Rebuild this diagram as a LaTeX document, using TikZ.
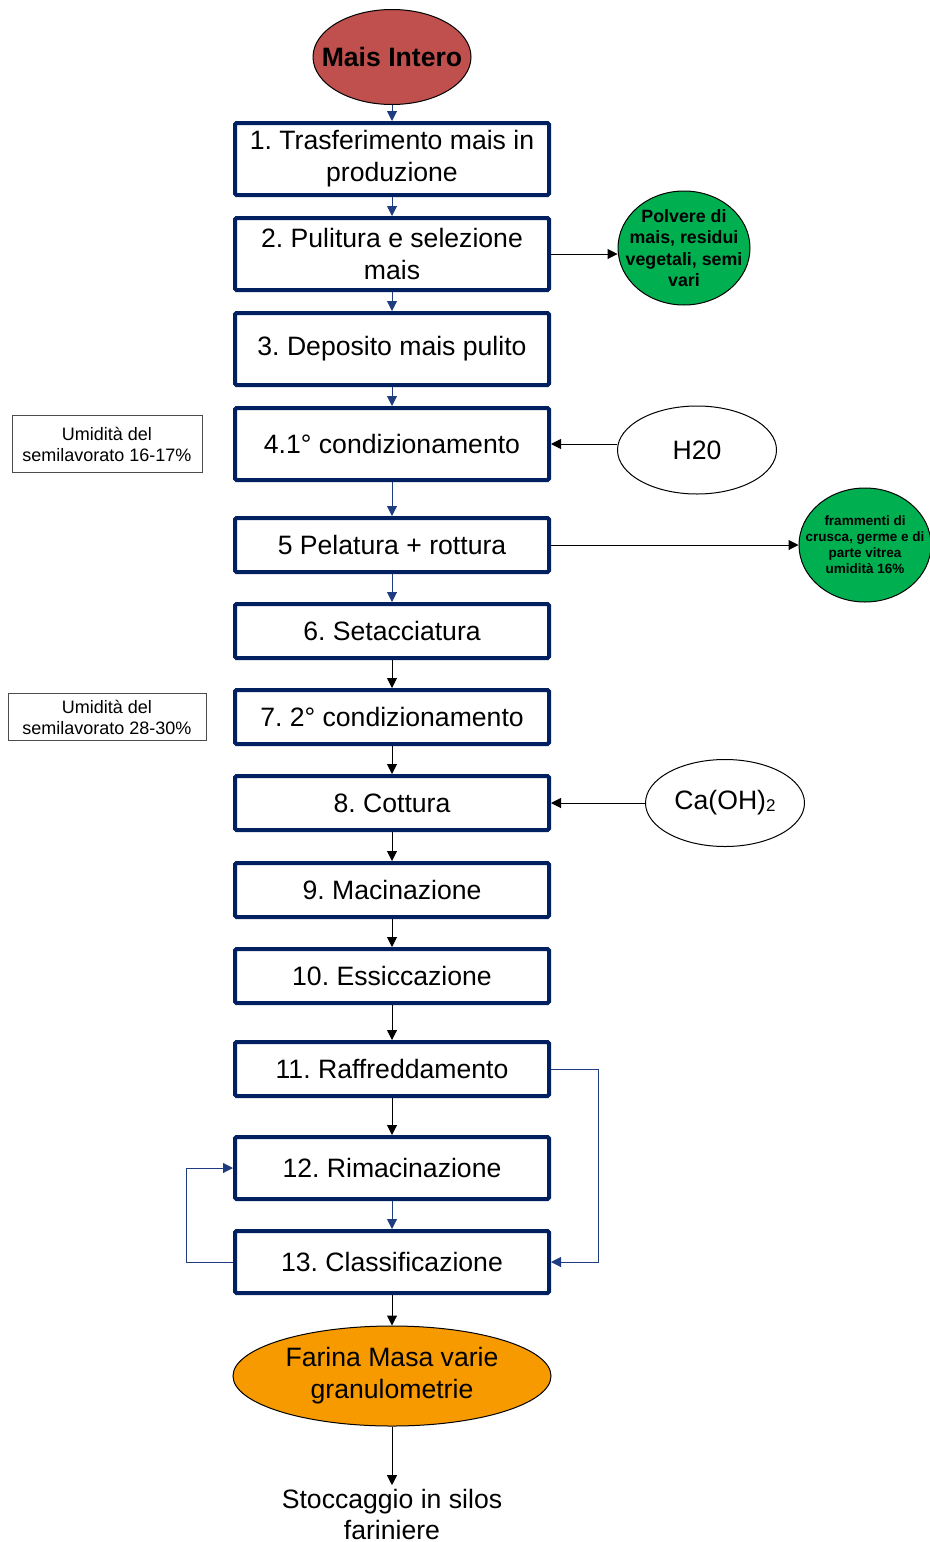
\documentclass[tikz,border=0pt]{standalone}
\usepackage{fontspec}
\setmainfont{Liberation Sans}
\usepackage{xcolor}
\usetikzlibrary{arrows.meta}
\usetikzlibrary{shapes.geometric}

\definecolor{navy}{HTML}{002060}
\definecolor{flowblue}{HTML}{1F3C80}
\definecolor{maisred}{HTML}{C0504D}
\definecolor{wastegreen}{HTML}{00B050}
\definecolor{flourorange}{HTML}{F79A00}

\frenchspacing
\begin{document}
\begin{tikzpicture}[x=1pt,y=-1pt,
  stepbox/.style={draw=navy, line width=4pt, rounded corners=1.5pt, fill=white,
    minimum width=314pt, align=center, font=\fontsize{26.6}{32}\selectfont},
  oval/.style={ellipse, draw, line width=1pt, inner sep=0pt},
  waste/.style={oval, fill=wastegreen, minimum width=132pt, minimum height=114pt},
  note/.style={draw=black!70, line width=0.8pt, align=center, inner sep=2pt,
    font=\fontsize{18}{21}\selectfont},
  flow/.style={-{Triangle[length=10pt,width=10pt]}, line width=1pt}]
\useasboundingbox (0,0) rectangle (929,1542);

% start and end
\node (mais) [oval, fill=maisred, minimum width=158pt, minimum height=95pt,
       label={[font=\fontsize{26.6}{32}\selectfont\bfseries]center:Mais Intero}] at (392,57) {};
\node (farina) [oval, fill=flourorange, minimum width=318pt, minimum height=100pt,
       label={[align=center, font=\fontsize{26.6}{32}\selectfont]center:Farina Masa varie\\granulometrie}]
       at (392,1376) {};
\node (silos) [align=center, font=\fontsize{26.6}{31}\selectfont]
       at (392,1514) {Stoccaggio in silos\\fariniere};

% process steps
\node (b1) [stepbox, minimum height=72pt] at (392,159) {1. Trasferimento mais in\\produzione};
\node (b2) [stepbox, minimum height=72pt] at (392,254) {2. Pulitura e selezione\\mais};
\node (b3) [stepbox, minimum height=72pt] at (392,349) {3. Deposito mais pulito};
\node (b4) [stepbox, minimum height=72pt] at (392,444) {4.1° condizionamento};
\node (b5) [stepbox, minimum height=54pt] at (392,545) {5 Pelatura + rottura};
\node (b6) [stepbox, minimum height=54pt] at (392,631) {6. Setacciatura};
\node (b7) [stepbox, minimum height=54pt] at (392,717) {7. 2° condizionamento};
\node (b8) [stepbox, minimum height=54pt] at (392,803) {8. Cottura};
\node (b9) [stepbox, minimum height=54pt] at (392,890) {9. Macinazione};
\node (b10) [stepbox, minimum height=54pt] at (392,976) {10. Essiccazione};
\node (b11) [stepbox, minimum height=54pt] at (392,1069) {11. Raffreddamento};
\node (b12) [stepbox, minimum height=62pt] at (392,1168) {12. Rimacinazione};
\node (b13) [stepbox, minimum height=62pt] at (392,1262) {13. Classificazione};

% inputs, waste and notes
\node (polvere) [waste,
       label={[align=center, font=\fontsize{17.8}{21.3}\selectfont\bfseries]center:Polvere di\\mais, residui\\vegetali, semi\\vari}]
       at (684,248) {};
\node (frammenti) [waste,
       label={[align=center, font=\fontsize{13.5}{16}\selectfont\bfseries]center:frammenti di\\crusca, germe e di\\parte vitrea\\umidità 16\%}]
       at (865,545) {};
\node (h2o) [oval, minimum width=159pt, minimum height=88pt,
       font=\fontsize{26.6}{32}\selectfont] at (697,450) {H20};
\node (caoh) [oval, minimum width=159pt, minimum height=87pt,
       font=\fontsize{26.6}{32}\selectfont] at (725,803)
       {Ca(OH)\raisebox{-2pt}{\fontsize{17}{17}\selectfont 2}};
\node (umid1) [note, minimum width=190pt, minimum height=57pt] at (107,444)
       {Umidità del\\semilavorato 16-17\%};
\node (umid2) [note, minimum width=198pt, minimum height=47pt] at (107,717)
       {Umidità del\\semilavorato 28-30\%};

% main line
\draw [flow, flowblue] (mais) -- (b1);
\draw [flow, flowblue] (b1) -- (b2);
\draw [flow, flowblue] (b2) -- (b3);
\draw [flow, flowblue] (b3) -- (b4);
\draw [flow, flowblue] (b4) -- (b5);
\draw [flow, flowblue] (b5) -- (b6);
\draw [flow] (b6) -- (b7);
\draw [flow] (b7) -- (b8);
\draw [flow] (b8) -- (b9);
\draw [flow] (b9) -- (b10);
\draw [flow] (b10) -- (b11);
\draw [flow] (b11) -- (b12);
\draw [flow, flowblue] (b12) -- (b13);
\draw [flow] (b13) -- (farina);
\draw [flow] (farina) -- (silos);

% side arrows
\draw [flow] (b2.east) -- (b2.east -| polvere.west);
\draw [flow] (h2o.west |- b4.east) -- (b4.east);
\draw [flow] (b5.east) -- (frammenti.west);
\draw [flow] (caoh.west) -- (b8.east);

% loops
\draw [flow, flowblue] (b11.east) -- ++(47,0) |- (b13.east);
\draw [flow, flowblue] (b13.west) -- ++(-47,0) |- (b12.west);
\end{tikzpicture}
\end{document}
